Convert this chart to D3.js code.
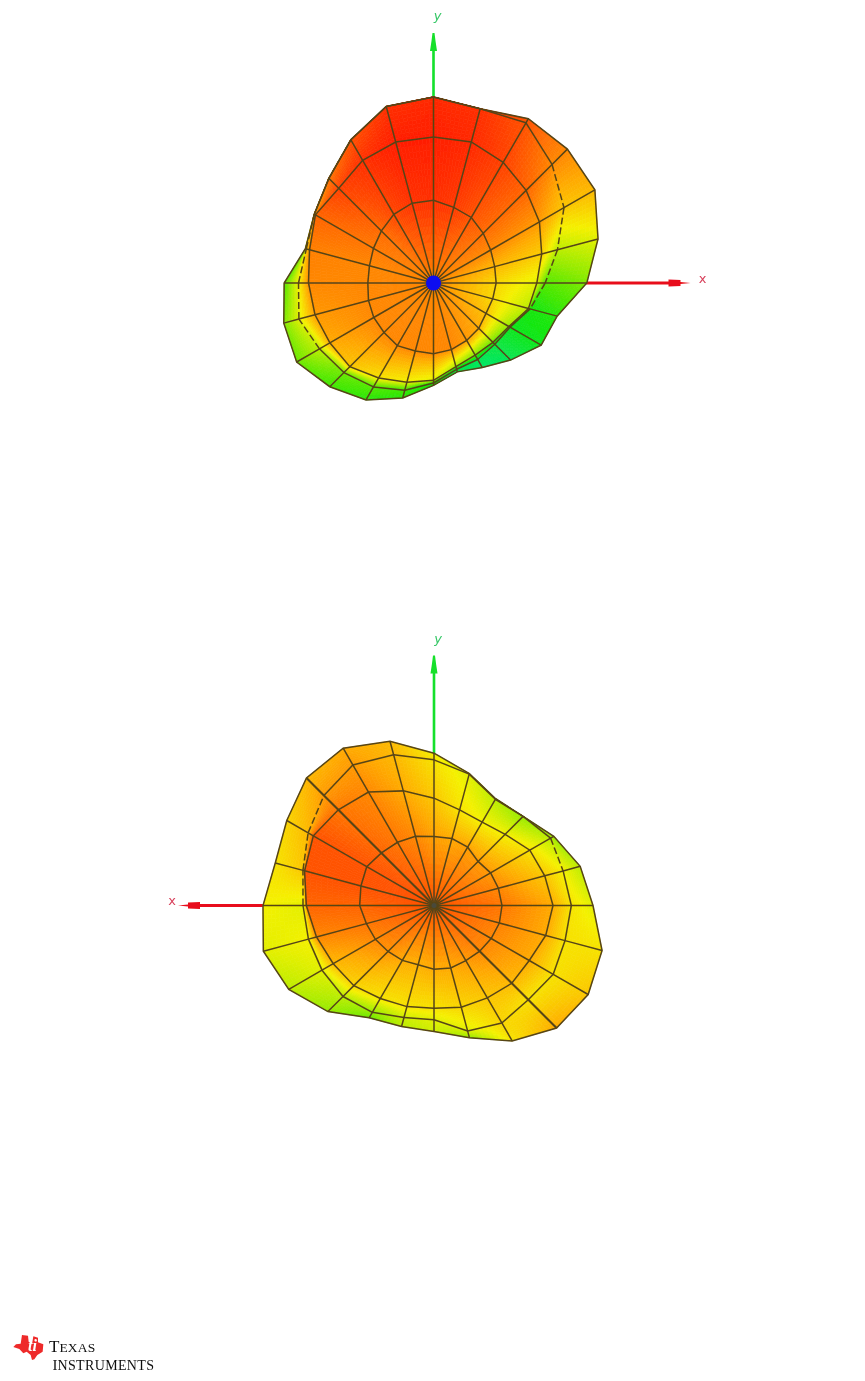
<!DOCTYPE html>
<html>
<head>
<meta charset="utf-8">
<script src="https://cdnjs.cloudflare.com/ajax/libs/d3/7.9.0/d3.min.js"></script>
<style>
html,body{margin:0;padding:0;background:#fff}
svg{display:block}
</style>
</head>
<body>
<svg id="c" width="865" height="1381"></svg>
<script>
// Spoke directions in degrees, clockwise from the top of the picture
const azimuths = [0,15,30,45,60,75,90,105,120,135,150,165,180,195,210,225,240,255,270,285,300,315,330,345];

// Upper pattern: lobe magnitude per spoke, for each constant-theta ring
const topRing1 = [248,235,227,211,198,190,188,184,182,192,199,207,212,211,217,210,207,202,197,199,208,221,238,248];
const topRing2 = [438,438,418,393,367,336,310,295,261,252,250,260,292,308,329,355,359,368,375,385,409,402,425,438];
const topRing3 = [558,541,555,503,452,385,335,300,265,260,265,268,300,333,360,380,395,418,405,395,413,444,496,548];
const topRing4 = [558,541,569,568,559,511,460,384,373,327,293,276,307,357,405,440,474,465,448,398,413,444,496,548];
// Upper pattern: gain in dB at the same vertices
const topGainCentre = -3;
const topGain1 = [-0.5,-0.8,-1.5,-2.2,-3,-4.4,-5.6,-5.6,-4.8,-4,-3.5,-3,-3,-3,-3,-3,-3,-3,-3,-3,-2.6,-2.2,-1.2,-0.6];
const topGain2 = [0,-0.3,-1,-2,-3.5,-5.2,-7,-8,-9,-10,-9.5,-8.5,-7,-6.5,-6,-5,-4,-3.5,-3,-2.8,-2,-1,-0.5,0];
const topGain3 = [-0.3,-0.5,-1.5,-3,-5,-8,-10.5,-12,-12.5,-13.5,-14,-14,-12,-11,-10.5,-10,-8,-7,-6.5,-5,-4,-2.5,-1.5,-0.5];
const topGain4 = [-0.5,-1,-1.5,-3,-4.5,-7,-9.5,-11.5,-12.5,-14,-14.5,-13.5,-12,-11.5,-11.5,-11,-10,-9.5,-10.5,-10,-4,-3,-2,-1];
const topDashed = [3,4,5,6,16,17,18,19];

// Lower pattern
const lowRing1 = [207,208,202,187,196,200,204,203,198,194,191,194,191,184,190,195,203,210,223,227,233,223,219,215];
const lowRing2 = [322,297,289,302,332,344,357,347,330,330,320,316,308,314,322,340,349,365,383,402,418,406,393,356];
const lowRing3 = [437,408,368,378,404,401,412,407,413,400,407,390,343,348,370,386,388,390,393,407,436,467,487,468];
const lowRing4 = [457,410,370,378,415,454,477,522,534,520,469,411,378,376,389,450,503,530,513,493,510,541,545,510];
const lowGainCentre = -1.5;
const lowGain1 = [-3.7,-4,-3.7,-3.5,-3.5,-3,-2.5,-2.8,-3,-3,-3.5,-4,-4,-4.2,-4,-3.3,-3,-2.5,-2,-1.5,-1.5,-2,-2.5,-3];
const lowGain2 = [-5,-6,-6.5,-6.5,-6,-5,-4,-4,-4,-4.5,-5,-5.5,-6,-6,-6,-5.5,-4.5,-3,-2,-1.5,-1.5,-2.5,-3,-4];
const lowGain3 = [-6,-7,-8,-9,-8,-6.5,-6,-6,-6,-6,-5.5,-7,-7,-7.5,-9,-8,-7,-6.5,-7,-5,-4.5,-3.5,-3.5,-4.5];
const lowGain4 = [-6.5,-7.5,-9,-9.5,-9,-8,-7,-6,-5,-4,-6,-9,-7.5,-8,-10,-9,-8,-7,-6.5,-6,-5.5,-4.5,-4,-4.5];
const lowDashed = [4,18,19,20];

// Colour legend of the simulator: gain in dB to colour
const gainStops = [-15,-12,-9,-6.5,-4,-2,0];
const gainColours = ["#00e678","#14e60a","#96eb00","#f5f000","#ffaa00","#ff6400","#ff1e00"];

const axisLabels = ["x","y"];
const logoWords = ["T","EXAS","I","NSTRUMENTS"];

const radius = d3.scaleLinear().domain([0,600]).range([0,200]);
const angle = d3.scaleLinear().domain([0,360]).range([0,2*Math.PI]);
const colour = d3.scaleLinear().domain(gainStops).range(gainColours).interpolate(d3.interpolateRgb);

const svg = d3.select("#c");
const defs = svg.append("defs");
defs.append("filter").attr("id","soft").attr("x","-5%").attr("y","-5%").attr("width","110%").attr("height","110%")
  .append("feGaussianBlur").attr("stdDeviation",0.55);

const SUB = 10;
function drawPattern(opt){
  const g = svg.append("g").attr("transform",`translate(${opt.cx},${opt.cy})`).attr("filter","url(#soft)");
  const n = azimuths.length;
  const zero = azimuths.map(()=>0);
  const centreG = azimuths.map(()=>opt.centreGain);
  const rings = [zero].concat(opt.rings);
  const gains = [centreG].concat(opt.gains);
  const pt = (j,i)=>d3.pointRadial(angle(azimuths[i]),radius(rings[j][i]));

  // Axes lie behind the mesh
  const ax = g.append("g");
  const axLine = d3.lineRadial().angle(d=>angle(d[0])).radius(d=>d[1]);
  ax.append("path").attr("d",axLine([[0,0],[opt.xAz,opt.xLen-20]])).attr("stroke","#e8101a").attr("stroke-width",3).attr("fill","none");
  ax.append("path").attr("d",axLine([[0,0],[0,opt.yLen-14]])).attr("stroke","#12e02a").attr("stroke-width",2.6).attr("fill","none");
  const dirX = opt.xAz===90?1:-1;
  ax.append("path").attr("d",`M${dirX*(opt.xLen-22)},-3.5L${dirX*(opt.xLen-10)},-3L${dirX*(opt.xLen-10)},-1L${dirX*opt.xLen},0L${dirX*(opt.xLen-10)},1L${dirX*(opt.xLen-10)},3L${dirX*(opt.xLen-22)},3.5Z`).attr("fill","#e8101a");
  ax.append("path").attr("d",`M-3.5,${-(opt.yLen-18)}L-2,${-(opt.yLen-8)}L-1,${-opt.yLen}L1,${-opt.yLen}L2,${-(opt.yLen-8)}L3.5,${-(opt.yLen-18)}Z`).attr("fill","#12e02a");
  ax.append("text").text(axisLabels[0]).attr("x",dirX*(opt.xLen+ (dirX>0?12:6))).attr("y",-0.5)
    .attr("text-anchor","middle").attr("font-family","DejaVu Sans").attr("font-size",13).attr("fill","#d8405a");
  ax.append("text").text(axisLabels[1]).attr("x",4).attr("y",-(opt.yLen+13))
    .attr("text-anchor","middle").attr("font-family","DejaVu Sans").attr("font-style","italic").attr("font-size",13).attr("fill","#38c868");

  // Shaded surface, outermost band first
  const cells = [];
  for(let j=rings.length-2;j>=0;j--){
    for(let i=0;i<n;i++){
      const k=(i+1)%n;
      const a=pt(j,i),b=pt(j,k),c=pt(j+1,k),d=pt(j+1,i);
      const ga=gains[j][i],gb=gains[j][k],gc=gains[j+1][k],gd=gains[j+1][i];
      const bil=(u,v)=>[
        (1-v)*((1-u)*a[0]+u*b[0])+v*((1-u)*d[0]+u*c[0]),
        (1-v)*((1-u)*a[1]+u*b[1])+v*((1-u)*d[1]+u*c[1])];
      for(let s=0;s<SUB;s++)for(let t=0;t<SUB;t++){
        const u0=s/SUB,u1=(s+1)/SUB,v0=t/SUB,v1=(t+1)/SUB,um=(u0+u1)/2,vm=(v0+v1)/2;
        const gv=(1-vm)*((1-um)*ga+um*gb)+vm*((1-um)*gd+um*gc);
        cells.push({p:[bil(u0,v0),bil(u1,v0),bil(u1,v1),bil(u0,v1)],g:gv});
      }
    }
  }
  g.append("g").selectAll("path").data(cells).join("path")
    .attr("d",d=>"M"+d.p.map(q=>q[0].toFixed(2)+","+q[1].toFixed(2)).join("L")+"Z")
    .attr("fill",d=>colour(d.g)).attr("stroke",d=>colour(d.g)).attr("stroke-width",0.7);

  // Wire mesh
  const mesh = g.append("g").attr("fill","none").attr("stroke","#564418").attr("stroke-width",1.5);
  const radial = d3.lineRadial().angle(d=>angle(d.a)).radius(d=>radius(d.r));
  azimuths.forEach((a,i)=>{
    mesh.append("path").attr("d",radial(rings.map(r=>({a,r:r[i]}))))
      .attr("stroke-width",opt.heavy.includes(a)?2.1:1.5);
  });
  const ringPath = d3.lineRadial().angle(d=>angle(d.a)).radius(d=>radius(d.r)).curve(d3.curveLinearClosed);
  opt.rings.forEach((r,j)=>{
    if(j===2){
      // third ring: solid where visible, dashed where it passes behind
      azimuths.forEach((a,i)=>{
        const k=(i+1)%n;
        const next=azimuths[k]===0?360:azimuths[k];
        mesh.append("path").attr("d",radial([{a,r:r[i]},{a:next,r:r[k]}]))
          .attr("stroke-dasharray",opt.dashed.includes(i)?"7 3":null);
      });
    } else {
      mesh.append("path").attr("d",ringPath(azimuths.map((a,i)=>({a,r:r[i]}))));
    }
  });
  if(opt.hub){
    g.append("circle").attr("r",opt.hub).attr("fill","#0a0af0");
  } else {
    g.append("circle").attr("r",2.5).attr("fill","#4a4a3a");
  }
}

drawPattern({cx:433.5,cy:283,xAz:90,xLen:257,yLen:250,hub:7.5,heavy:[],dashed:topDashed,centreGain:topGainCentre,
  rings:[topRing1,topRing2,topRing3,topRing4],gains:[topGain1,topGain2,topGain3,topGain4]});
drawPattern({cx:434,cy:905.5,xAz:270,xLen:256,yLen:250,hub:0,heavy:[135,315],dashed:lowDashed,centreGain:lowGainCentre,
  rings:[lowRing1,lowRing2,lowRing3,lowRing4],gains:[lowGain1,lowGain2,lowGain3,lowGain4]});

// Company mark
const logo = svg.append("g").attr("transform","translate(0,1325)").attr("filter","url(#soft)");
logo.append("path").attr("transform","scale(0.3333)")
  .attr("d","M66,30L84,32L86,50L96,58L100,34L114,38L114,52L130,58L128,80L112,90L103,103L96,105L92,90L80,80L70,85L58,72L40,66L48,58L62,56Z")
  .attr("fill","#ee2a2a");
logo.append("text").text("ti").attr("x",28).attr("y",26).attr("font-family","Liberation Serif").attr("font-style","italic").attr("font-weight","bold").attr("font-size",16).attr("fill","#fff");
const word = svg.append("g").attr("font-family","Liberation Serif").attr("fill","#111").attr("filter","url(#soft)");
const t1 = word.append("text").attr("x",49).attr("y",1352.3);
t1.append("tspan").attr("font-size",17).text(logoWords[0]);
t1.append("tspan").attr("font-size",13.5).attr("letter-spacing",0.2).text(logoWords[1]);
const t2 = word.append("text").attr("x",52.5).attr("y",1369.8);
t2.append("tspan").attr("font-size",15).text(logoWords[2]);
t2.append("tspan").attr("font-size",14).attr("letter-spacing",0.35).text(logoWords[3]);
</script>
</body>
</html>
